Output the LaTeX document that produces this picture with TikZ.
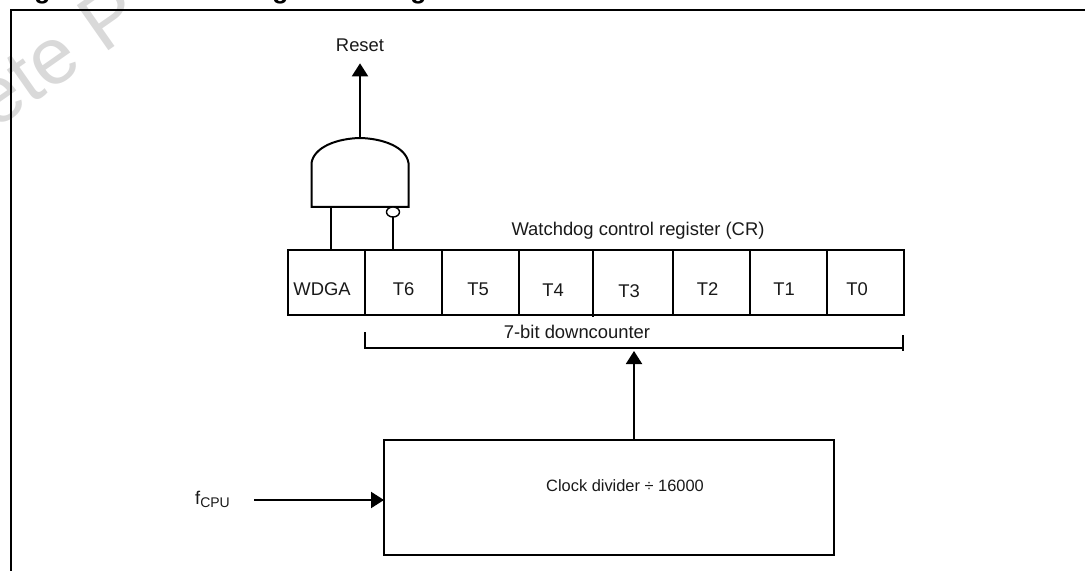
\documentclass[tikz,border=0pt]{standalone}
\usepackage{fontspec}
\setmainfont{Liberation Sans}
\usetikzlibrary{arrows.meta, positioning, shapes.geometric}
\definecolor{markGray}{RGB}{217,217,217}
\definecolor{darkText}{RGB}{25,25,25}
\tikzset{
    cellbox/.style={
        rectangle,
        draw=black,
        line width=1pt,
        anchor=north west,
        outer sep=0pt,
        inner sep=0pt,
        minimum height=32.5pt
    },
    clockbox/.style={
        rectangle,
        draw=black,
        line width=1pt,
        anchor=north west,
        outer sep=0pt,
        minimum width=225pt,
        minimum height=57.5pt
    },
    celltext/.style={inner sep=0pt, text=darkText, font=\fontsize{9.2}{11}\selectfont},
    plaintext/.style={inner sep=0pt, text=darkText, font=\fontsize{9.2}{11}\selectfont},
    clocktext/.style={inner sep=0pt, text=darkText, font=\fontsize{8.2}{10}\selectfont},
    titletext/.style={inner sep=0pt, anchor=base west, text=black, font=\fontsize{13.2}{15}\selectfont\bfseries},
    marktext/.style={inner sep=0pt, anchor=base west, rotate=35, text=markGray, font=\fontsize{40}{44}\selectfont},
    wire/.style={draw=black, line width=1pt},
    flowarrow/.style={-{Triangle[length=6.5pt, width=8pt]}, line width=1pt, draw=black},
    inverter/.style={ellipse, draw=black, line width=0.7pt, fill=white, inner sep=0pt, outer sep=0pt, minimum width=6.5pt, minimum height=5pt}
}
\begin{document}
\begin{tikzpicture}[x=0.5pt, y=-0.5pt]
    \useasboundingbox (0,0) rectangle (1085,571);

    \node[marktext] (mark) at (-6,131) {ete P};
    \node[titletext] (figlabel) at (10.5,-1.5) {Figure};
    \node[titletext] (figtitle) at (161.5,-1.5) {Watchdog block diagram};

    \coordinate (frameTR) at (1085,10);
    \coordinate (frameTL) at (11,10);
    \coordinate (frameBL) at (11,571);
    \draw[wire] (frameTR) -- (frameTL) -- (frameBL);

    % register
    \node[cellbox, minimum width=38.5pt, label={[celltext, xshift=-2.25pt, yshift=-3.25pt]center:WDGA}] (wdga) at (288,250) {};
    \node[cellbox, minimum width=38.5pt, right=0pt of wdga, label={[celltext, yshift=-3.25pt]center:T6}] (t6) {};
    \node[cellbox, minimum width=38.5pt, right=0pt of t6, label={[celltext, xshift=-1.25pt, yshift=-3.25pt]center:T5}] (t5) {};
    \node[cellbox, minimum width=37pt, right=0pt of t5, label={[celltext, xshift=-1.5pt, yshift=-3.75pt]center:T4}] (t4) {};
    \node[cellbox, minimum width=40pt, right=0pt of t4, label={[celltext, xshift=-2pt, yshift=-4.25pt]center:T3}] (t3) {};
    \node[cellbox, minimum width=38.5pt, right=0pt of t3, label={[celltext, xshift=-2pt, yshift=-3.25pt]center:T2}] (t2) {};
    \node[cellbox, minimum width=38.5pt, right=0pt of t2, label={[celltext, xshift=-2.25pt, yshift=-3.25pt]center:T1}] (t1) {};
    \node[cellbox, minimum width=38.5pt, right=0pt of t1, label={[celltext, xshift=-4.25pt, yshift=-3.25pt]center:T0}] (t0) {};
    \draw[wire] (t3.south west) -- ++(0,2);

    \node[plaintext] (crlabel) at (638,231) {Watchdog control register (CR)};
    \node[plaintext] (countlabel) at (577,332) {7-bit downcounter};

    % gate
    \node[minimum width=48.5pt, minimum height=34.5pt, inner sep=0pt, outer sep=0pt] (gate) at (360,172.5) {};
    \coordinate (gateL) at (311.5,163);
    \coordinate (gateR) at (408.5,163);
    \draw[wire, line join=miter] (gateL) .. controls (314,147) and (337,138.5) .. (gate.north)
        .. controls (383,138.5) and (406,147) .. (gateR) -- (gate.south east) -- (gate.south west) -- cycle;
    \node[inverter] (bubble) at (393,212) {};
    \coordinate (wdgaIn) at (331,250);
    \coordinate (t6In) at (393,250);
    \draw[wire] (wdgaIn) -- (wdgaIn |- gate.south);
    \draw[wire] (t6In) -- (bubble.south);

    \node[plaintext, inner sep=5.75pt] (reset) at (360,45) {Reset};
    \draw[flowarrow] (gate.north) -- (reset.south);

    % counter bracket
    \coordinate (bracketL) at (365,332);
    \coordinate (bracketM) at (365,348);
    \coordinate (bracketR) at (903,348);
    \draw[wire] (bracketL) -- (bracketM) -- (bracketR);
    \draw[wire] (903,335) -- (903,351);

    % divider
    \node[clockbox, label={[clocktext, xshift=8pt, yshift=5.75pt]center:Clock divider \char"00F7\ 16000}] (clock) at (384,440) {};
    \coordinate (counterIn) at (634,351);
    \draw[flowarrow] (counterIn |- clock.north) -- (counterIn);

    \node[plaintext] (fcpu) at (212.5,499) {f\raisebox{-1.5pt}{\fontsize{7}{8}\selectfont CPU}};
    \coordinate (clockIn) at (254,500);
    \draw[flowarrow] (clockIn) -- (clockIn -| clock.west);
\end{tikzpicture}
\end{document}
